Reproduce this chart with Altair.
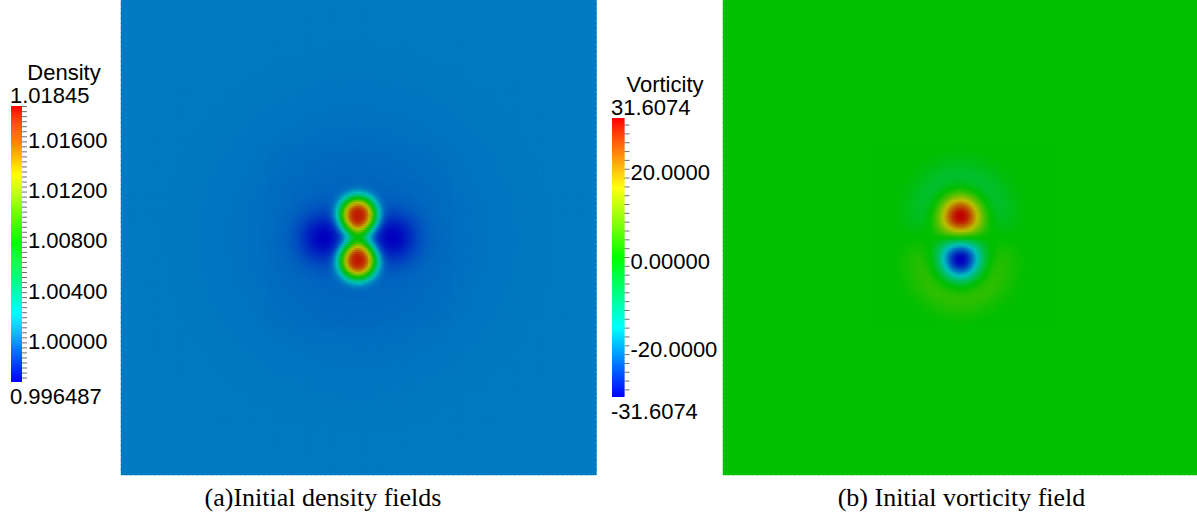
import numpy as np
import pandas as pd
import altair as alt

# ---------------------------------------------------------------
# Periodic box [-pi, pi]^2 sampled for both initial fields
# ---------------------------------------------------------------
HALF = np.pi

# Vortex dipole (shielded Gaussian vortices)
vortex_x = [0.0, 0.0]
vortex_y = [0.30, -0.30]
vortex_sign = [1.0, -1.0]
vortex_radius = 0.37
vort_min, vort_max = -31.6074, 31.6074
vort_major = [20.0, 0.0, -20.0]
vort_major_labels = ["20.0000", "0.00000", "-20.0000"]
vort_minor = [float(v) for v in range(-30, 31, 2)]

# Density: two bumps at the vortex cores joined by a neck,
# two low lobes beside the dipole and a shallow surrounding dip
rho_background = 1.0
rho_min, rho_max = 0.996487, 1.01845
bump_x = [0.0, 0.0]
bump_y = [0.30, -0.30]
bump_width = 0.24
bump_power = 3.0
neck_width = 0.16
neck_height = 0.0035
lobe_x = [-0.46, 0.46]
lobe_y = [0.0, 0.0]
lobe_width = 0.31
halo_radius = 1.5
halo_depth = 0.0007
rho_major = [1.016, 1.012, 1.008, 1.004, 1.0]
rho_major_labels = ["1.01600", "1.01200", "1.00800", "1.00400", "1.00000"]
rho_minor = [round(k / 10000, 4) for k in range(9968, 10185, 4)]

# ParaView-style blue-to-red rainbow (shaded for the slices, full for the bars)
slice_colors = ["#0000c0", "#00c0c0", "#00c000", "#c0c000", "#c00000"]
bar_colors = ["#0000ff", "#00ffff", "#00ff00", "#ffff00", "#ff0000"]

FONT_SANS = "Liberation Sans"
FONT_SERIF = "Liberation Serif"


def make_cells():
    """Coarse cells over the whole box plus fine cells around the centre."""
    cells = []
    outer = np.linspace(-HALF, HALF, 101)
    inner_half = 1.2
    inner = np.linspace(-inner_half, inner_half, 91)
    for edges, skip_inner in ((outer, True), (inner, False)):
        x0, y0 = np.meshgrid(edges[:-1], edges[:-1])
        x1, y1 = np.meshgrid(edges[1:], edges[1:])
        x0, y0, x1, y1 = x0.ravel(), y0.ravel(), x1.ravel(), y1.ravel()
        if skip_inner:
            keep = ~((x0 >= -inner_half) & (x1 <= inner_half) &
                     (y0 >= -inner_half) & (y1 <= inner_half))
            x0, y0, x1, y1 = x0[keep], y0[keep], x1[keep], y1[keep]
        cells.append((x0, y0, x1, y1))
    x0 = np.concatenate([c[0] for c in cells])
    y0 = np.concatenate([c[1] for c in cells])
    x1 = np.concatenate([c[2] for c in cells])
    y1 = np.concatenate([c[3] for c in cells])
    return x0, y0, x1, y1


x0, y0, x1, y1 = make_cells()
xc = (x0 + x1) / 2
yc = (y0 + y1) / 2
overlap = 0.02  # neighbouring cells overlap slightly so no seams show

# vorticity
omega = np.zeros_like(xc)
for vx, vy, s in zip(vortex_x, vortex_y, vortex_sign):
    q = ((xc - vx) ** 2 + (yc - vy) ** 2) / vortex_radius ** 2
    omega += s * (1 - q) * np.exp(-q)
omega *= vort_max / omega.max()

# density
bumps = np.zeros_like(xc)
for bx, by in zip(bump_x, bump_y):
    r = np.hypot(xc - bx, yc - by)
    bumps += np.exp(-(r / bump_width) ** bump_power)
neck = np.exp(-(xc ** 2 + yc ** 2) / neck_width ** 2)
lobes = np.zeros_like(xc)
for lx, ly in zip(lobe_x, lobe_y):
    lobes += np.exp(-((xc - lx) ** 2 + (yc - ly) ** 2) / lobe_width ** 2)
halo = np.exp(-(np.hypot(xc, yc) / halo_radius) ** 2)
rho = (rho_background
       + (rho_max - rho_background) * bumps / bumps.max()
       + neck_height * neck
       - (rho_background - rho_min - halo_depth) * lobes / lobes.max()
       - halo_depth * halo)

cells_df = pd.DataFrame({"x0": x0.round(4), "x1": (x1 + overlap).round(4),
                         "y0": y0.round(4), "y1": (y1 + overlap).round(4)})
rho_df = cells_df.assign(v=rho.round(7))
omega_df = cells_df.assign(v=omega.round(4))

FIELD_TOP, FIELD_BOTTOM = 0, 475


def stops(lo, hi):
    return list(np.linspace(lo, hi, 5))


def field_layer(df, x_range, lo, hi):
    cscale = alt.Scale(domain=stops(lo, hi), range=slice_colors, interpolate="rgb", clamp=True)
    return alt.Chart(df).mark_rect(opacity=1, strokeWidth=0.4).encode(
        x=alt.X("x0:Q", scale=alt.Scale(domain=[-HALF, HALF], range=x_range, nice=False, zero=False), axis=None),
        x2="x1:Q",
        y=alt.Y("y0:Q", scale=alt.Scale(domain=[-HALF, HALF], range=[FIELD_BOTTOM, FIELD_TOP], nice=False, zero=False), axis=None),
        y2="y1:Q",
        fill=alt.Fill("v:Q", scale=cscale, legend=None),
        stroke=alt.Stroke("v:Q", scale=cscale, legend=None),
    )


def caption_layer(text, x_range, dx):
    df = pd.DataFrame({"x": [0.0], "y": [-HALF], "label": [text]})
    return alt.Chart(df).mark_text(font=FONT_SERIF, fontSize=26, color="black", align="center",
                                   baseline="alphabetic", dx=dx, dy=31).encode(
        x=alt.X("x:Q", scale=alt.Scale(domain=[-HALF, HALF], range=x_range, nice=False, zero=False), axis=None),
        y=alt.Y("y:Q", scale=alt.Scale(domain=[-HALF, HALF], range=[FIELD_BOTTOM, FIELD_TOP], nice=False, zero=False), axis=None),
        text="label:N",
    )


def colorbar_layers(lo, hi, x_range, y_range, title, top_label, bottom_label,
                    minor, major, major_labels):
    xs = alt.Scale(domain=[0, 1], range=x_range, nice=False, zero=False)
    ys = alt.Scale(domain=[lo, hi], range=y_range, nice=False, zero=False)
    n = 280
    edges = np.linspace(lo, hi, n + 1)
    step = (hi - lo) / n
    strips = pd.DataFrame({"a": 0.0, "b": 1.0, "v0": edges[:-1],
                           "v1": np.minimum(edges[1:] + 0.5 * step, hi),
                           "v": (edges[:-1] + edges[1:]) / 2})
    bar = alt.Chart(strips).mark_rect(opacity=1, strokeWidth=0).encode(
        x=alt.X("a:Q", scale=xs, axis=None), x2="b:Q",
        y=alt.Y("v0:Q", scale=ys, axis=None), y2="v1:Q",
        color=alt.Color("v:Q", scale=alt.Scale(domain=stops(lo, hi), range=bar_colors,
                                               interpolate="rgb", clamp=True), legend=None),
    )
    bar_px = x_range[1] - x_range[0]
    tick_df = pd.DataFrame({"a": 1.0, "b": 1.0 + 5.0 / bar_px, "v": minor})
    ticks = alt.Chart(tick_df).mark_rule(color="#6e6e6e", strokeWidth=1).encode(
        x=alt.X("a:Q", scale=xs, axis=None), x2="b:Q",
        y=alt.Y("v:Q", scale=ys, axis=None),
    )
    lab_df = pd.DataFrame({"a": 1.0 + 5.0 / bar_px, "v": major, "label": major_labels})
    labels = alt.Chart(lab_df).mark_text(font=FONT_SANS, fontSize=22, color="black", align="left",
                                         baseline="middle", dx=1, dy=4).encode(
        x=alt.X("a:Q", scale=xs, axis=None),
        y=alt.Y("v:Q", scale=ys, axis=None),
        text="label:N",
    )
    ends_top = alt.Chart(pd.DataFrame({"a": [0.0], "v": [hi], "label": [top_label]})).mark_text(
        font=FONT_SANS, fontSize=22, color="black", align="left", baseline="alphabetic", dx=-1, dy=-3).encode(
        x=alt.X("a:Q", scale=xs, axis=None), y=alt.Y("v:Q", scale=ys, axis=None), text="label:N")
    ends_bottom = alt.Chart(pd.DataFrame({"a": [0.0], "v": [lo], "label": [bottom_label]})).mark_text(
        font=FONT_SANS, fontSize=22, color="black", align="left", baseline="alphabetic", dx=-1, dy=22).encode(
        x=alt.X("a:Q", scale=xs, axis=None), y=alt.Y("v:Q", scale=ys, axis=None), text="label:N")
    title_mark = alt.Chart(pd.DataFrame({"a": [0.0], "v": [hi], "label": [title]})).mark_text(
        font=FONT_SANS, fontSize=22, color="black", align="center", baseline="alphabetic", dx=53, dy=-26).encode(
        x=alt.X("a:Q", scale=xs, axis=None), y=alt.Y("v:Q", scale=ys, axis=None), text="label:N")
    return [bar, ticks, labels, ends_top, ends_bottom, title_mark]


left_x = [121, 595]
right_x = [723, 1198]

layers = [
    field_layer(rho_df, left_x, rho_min, rho_max),
    field_layer(omega_df, right_x, vort_min, vort_max),
    caption_layer("(a)Initial density fields", left_x, -35),
    caption_layer("(b) Initial vorticity field", right_x, 1),
]
layers += colorbar_layers(rho_min, rho_max, [11, 22], [382, 106], "Density",
                          "1.01845", "0.996487", rho_minor, rho_major, rho_major_labels)
layers += colorbar_layers(vort_min, vort_max, [612, 624.5], [397, 118], "Vorticity",
                          "31.6074", "-31.6074", vort_minor, vort_major, vort_major_labels)

chart = (
    alt.layer(*layers)
    .resolve_scale(x="independent", y="independent", color="independent",
                   fill="independent", stroke="independent")
    .properties(width=1197, height=520, autosize=alt.AutoSizeParams(type="none"), padding=0,
                background="white")
    .configure_view(stroke=None)
)

alt.data_transformers.disable_max_rows()
chart.save("out.html", embed_options={"renderer": "svg", "actions": False})
